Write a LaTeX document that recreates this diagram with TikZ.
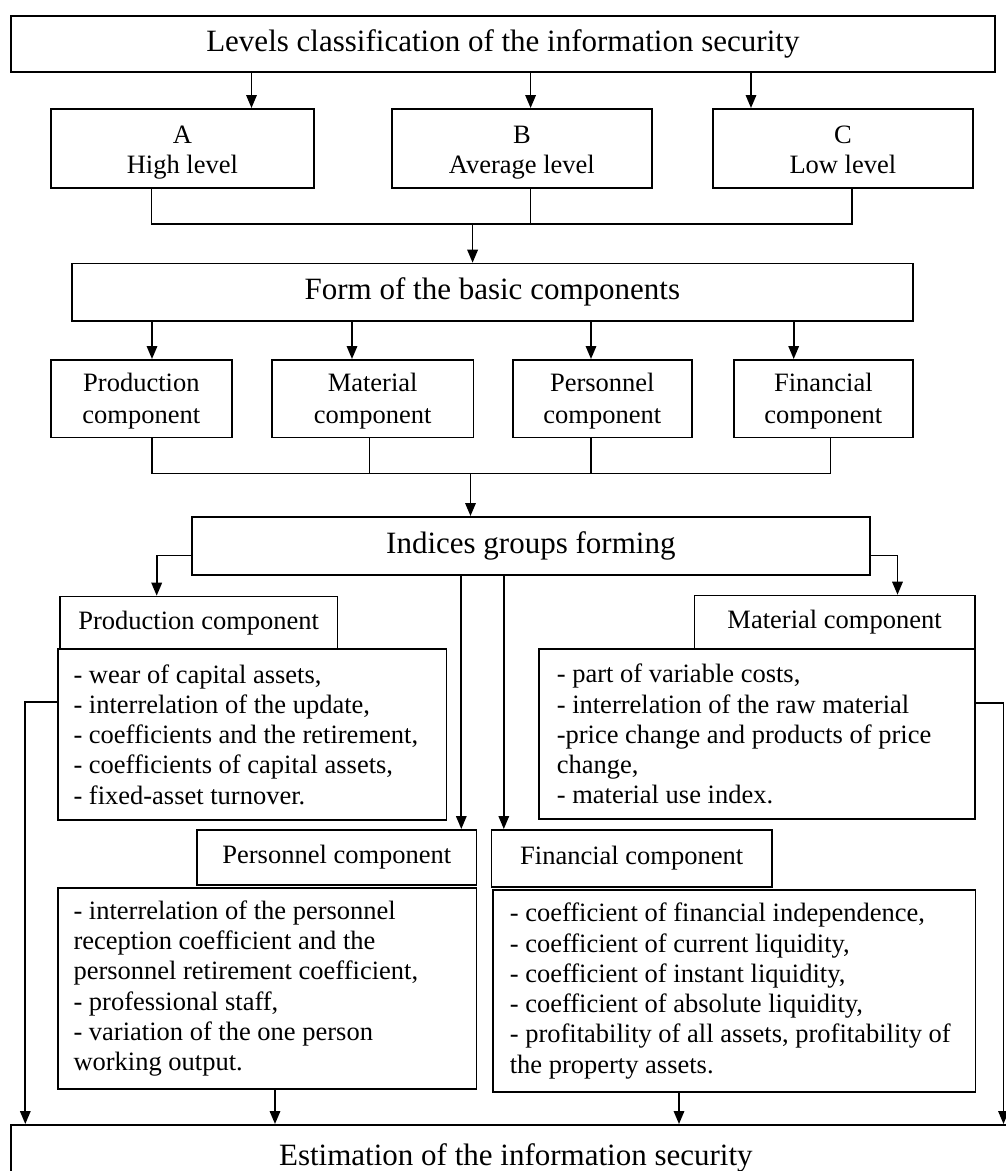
\documentclass[tikz,border=0pt]{standalone}
\usepackage{fontspec}
\setmainfont{Liberation Serif}
\usetikzlibrary{arrows.meta}
\tikzset{
  box/.style={draw, line width=1.7pt, rectangle, inner sep=0pt, anchor=north west, align=center},
  big/.style={font=\fontsize{31}{36}\selectfont},
  small/.style={font=\fontsize{26.5}{31}\selectfont},
  lvl/.style={font=\fontsize{26.5}{30}\selectfont, text height=55pt, text depth=4pt},
  comp/.style={font=\fontsize{26.5}{32}\selectfont, text height=54pt, text depth=3.7pt},
  listtext/.style={inner sep=0pt, anchor=west, align=left, font=\fontsize{26.5}{30.3}\selectfont},
  conn/.style={line width=1.7pt},
  arr/.style={line width=1.7pt, -{Triangle[length=13pt,width=10.5pt]}}
}
\begin{document}
\begin{tikzpicture}[x=1pt,y=-1pt]
\useasboundingbox (0,0) rectangle (1006,1171);
\clip (0,0) rectangle (1006,1171);
% boxes
\node[box,big,minimum width=984pt,minimum height=56pt] (title) at (10,15) {Levels classification of the information security};
\node[box,lvl,minimum width=263pt,minimum height=79pt] (A) at (50,108) {A\\High level};
\node[box,lvl,minimum width=260pt,minimum height=79pt] (B) at (391,108) {B\\Average level};
\node[box,lvl,minimum width=260pt,minimum height=79pt] (C) at (712,108) {C\\Low level};
\node[box,big,minimum width=841pt,minimum height=57.3pt] (form) at (71,262.7) {Form of the basic components};
\node[box,comp,minimum width=181pt,minimum height=77.7pt] (prod) at (50,359) {Production\\component};
\node[box,comp,minimum width=201.6pt,minimum height=77.7pt] (mat) at (271,359) {Material\\component};
\node[box,comp,minimum width=179pt,minimum height=77.7pt] (pers) at (512,359) {Personnel\\component};
\node[box,comp,minimum width=179pt,minimum height=77.7pt] (fin) at (733,359) {Financial\\component};
\node[box,big,minimum width=678pt,minimum height=58pt] (ind) at (191,516) {Indices groups forming};
\node[box,small,minimum width=277.7pt,minimum height=52.6pt] (prodH) at (59,595.7) {Production component};
\node[box,minimum width=388.4pt,minimum height=170.7pt] (prodL) at (57.3,648.3) {};
\node[box,small,minimum width=280.2pt,minimum height=53.7pt] (matH) at (693.6,594.7) {Material component};
\node[box,minimum width=436pt,minimum height=169.8pt] (matL) at (537.8,648.4) {};
\node[box,small,minimum width=279.4pt,minimum height=55.3pt] (persH) at (196.3,829) {Personnel component};
\node[box,minimum width=418.4pt,minimum height=201pt] (persL) at (57.3,887.3) {};
\node[box,small,minimum width=280.3pt,minimum height=57.4pt] (finH) at (490.7,829) {Financial component};
\node[box,minimum width=482.1pt,minimum height=202.3pt] (finL) at (492.4,889) {};
\node[box,big,minimum width=1010pt,minimum height=66pt] (est) at (10,1124) {Estimation of the information security};
% list texts
\node[listtext] (prodT) at ([xshift=16pt]prodL.west) {- wear of capital assets,\\- interrelation of the update,\\- coefficients and the retirement,\\- coefficients of capital assets,\\- fixed-asset turnover.};
\node[listtext] (matT) at ([xshift=18.8pt]matL.west) {- part of variable costs,\\- interrelation of the raw material\\-price change and products of price\\change,\\- material use index.};
\node[listtext] (persT) at ([xshift=16pt]persL.west) {- interrelation of the personnel\\reception coefficient and the\\personnel retirement coefficient,\\- professional staff,\\- variation of the one person\\working output.};
\node[listtext] (finT) at ([xshift=17.2pt]finL.west) {- coefficient of financial independence,\\- coefficient of current liquidity,\\- coefficient of instant liquidity,\\- coefficient of absolute liquidity,\\- profitability of all assets, profitability of\\the property assets.};
% column coordinates
\coordinate (t1) at (251.5,0);
\coordinate (t2) at (530.6,0);
\coordinate (t3) at (751,0);
\coordinate (a1) at (151.5,0);
\coordinate (a3) at (851.7,0);
\coordinate (bus1) at (0,224);
\coordinate (f0) at (472.6,0);
\coordinate (g1) at (152,0);
\coordinate (g2) at (352,0);
\coordinate (g3) at (591,0);
\coordinate (g4) at (793.7,0);
\coordinate (h2) at (369.5,0);
\coordinate (h4) at (830.5,0);
\coordinate (bus2) at (0,473.5);
\coordinate (i0) at (470.5,0);
\coordinate (lx) at (156.7,555.5);
\coordinate (rx) at (897.5,555.5);
\coordinate (v1) at (461.3,0);
\coordinate (v2) at (503.8,0);
\coordinate (ly) at (25.3,701.7);
\coordinate (ry) at (1003.5,703.2);
\coordinate (p1) at (275,0);
\coordinate (p2) at (679,0);
% connectors
\draw[arr] (title.south -| t1) -- (A.north -| t1);
\draw[arr] (title.south -| t2) -- (B.north -| t2);
\draw[arr] (title.south -| t3) -- (C.north -| t3);
\draw[conn] (A.south -| a1) -- (a1 |- bus1) -- (a3 |- bus1) -- (C.south -| a3);
\draw[conn] (B.south -| t2) -- (t2 |- bus1);
\draw[arr] (f0 |- bus1) -- (form.north -| f0);
\draw[arr] (form.south -| g1) -- (prod.north -| g1);
\draw[arr] (form.south -| g2) -- (mat.north -| g2);
\draw[arr] (form.south -| g3) -- (pers.north -| g3);
\draw[arr] (form.south -| g4) -- (fin.north -| g4);
\draw[conn] (prod.south -| g1) -- (g1 |- bus2) -- (h4 |- bus2) -- (fin.south -| h4);
\draw[conn] (mat.south -| h2) -- (h2 |- bus2);
\draw[conn] (pers.south -| g3) -- (g3 |- bus2);
\draw[arr] (i0 |- bus2) -- (ind.north -| i0);
\draw[arr] (ind.west |- lx) -- (lx) -- (prodH.north -| lx);
\draw[arr] (ind.east |- rx) -- (rx) -- (matH.north -| rx);
\draw[arr] (ind.south -| v1) -- (persH.north -| v1);
\draw[arr] (ind.south -| v2) -- (finH.north -| v2);
\draw[arr] (prodL.west |- ly) -- (ly) -- (est.north -| ly);
\draw[arr] (matL.east |- ry) -- (ry) -- (est.north -| ry);
\draw[arr] (persL.south -| p1) -- (est.north -| p1);
\draw[arr] (finL.south -| p2) -- (est.north -| p2);
\end{tikzpicture}
\end{document}
